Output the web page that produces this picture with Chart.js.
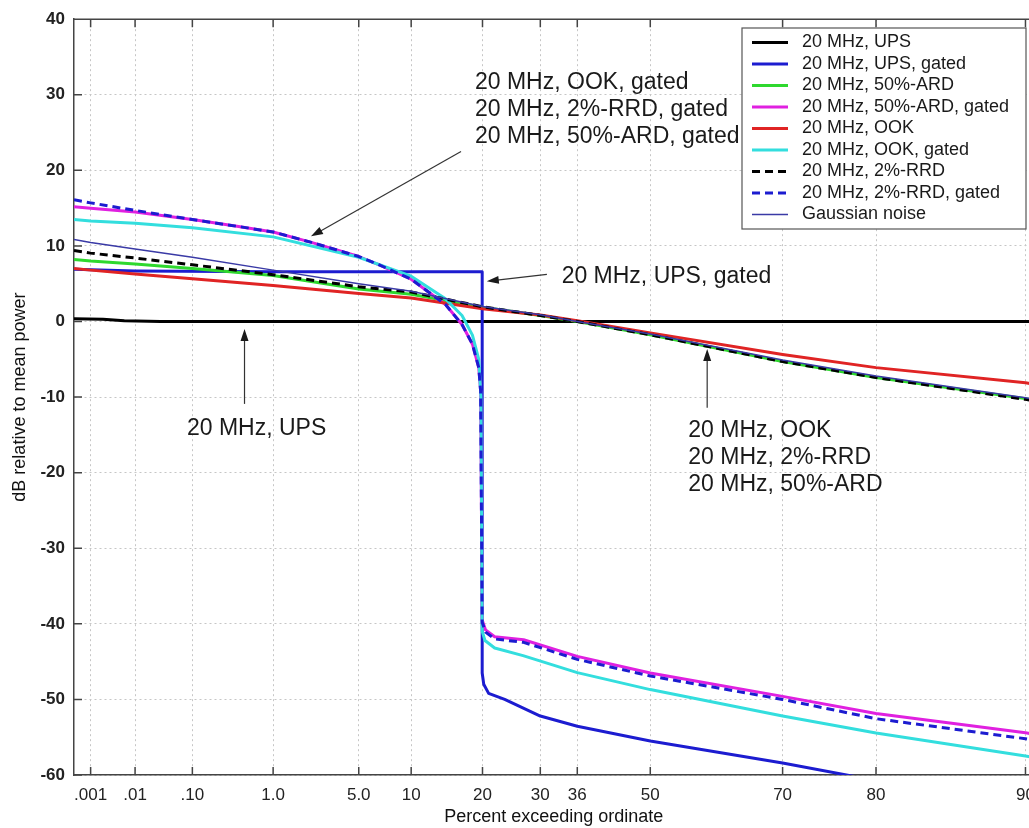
<!DOCTYPE html>
<html>
<head>
<meta charset="utf-8">
<script src="https://cdn.jsdelivr.net/npm/chart.js@4"></script>
<style>
  html, body { margin: 0; padding: 0; overflow: hidden; background: #fff; }
  #wrap { width: 1045px; height: 828px; }
</style>
</head>
<body>
<div id="wrap"><canvas id="chart"></canvas></div>
<script>
// percent exceeding ordinate (Rayleigh probability axis)
const xTickPct = [0.001, 0.01, 0.1, 1, 5, 10, 20, 30, 36.79, 50, 70, 80, 90];
const xTickLabels = [".001", ".01", ".10", "1.0", "5.0", "10", "20", "30", "36", "50", "70", "80", "90"];
const xMinPct = 0.000367;
const xMaxPct = 90.38;

const seriesNames = [
  "20 MHz, UPS",
  "20 MHz, UPS, gated",
  "20 MHz, 50%-ARD",
  "20 MHz, 50%-ARD, gated",
  "20 MHz, OOK",
  "20 MHz, OOK, gated",
  "20 MHz, 2%-RRD",
  "20 MHz, 2%-RRD, gated",
  "Gaussian noise",
];

const basePct = [0.000367, 0.001, 0.01, 0.1, 1, 5, 10, 20, 30, 36.79, 50, 70, 80, 90, 90.4];
const ookDb   = [7.0, 6.8, 6.3, 5.65, 4.75, 3.7, 3.1, 1.7, 0.85, 0.1, -1.5, -4.35, -6.1, -8.1, -8.3];
const ardDb   = [8.2, 8.0, 7.6, 7.0, 6.1, 4.3, 3.6, 1.9, 0.8, 0, -1.75, -5.3, -7.4, -10.2, -10.4];
const rrdDb   = [9.4, 9.05, 8.4, 7.5, 6.2, 4.6, 3.9, 1.95, 0.8, 0, -1.75, -5.3, -7.4, -10.3, -10.5];
const gaussDb = [10.85, 10.45, 9.6, 8.5, 6.8, 5.0, 4.0, 2.0, 0.9, 0, -1.65, -5.1, -7.2, -10.1, -10.3];

const upsPct = [0.000367, 0.002, 0.006, 0.03, 90.4];
const upsDb  = [0.35, 0.3, 0.1, 0, 0];

const upsGatedPct = [0.000367, 0.01, 1, 5, 19.95, 19.95, 20.2, 21, 23.7, 30, 36.79, 50, 70, 78, 80];
const upsGatedDb  = [6.9, 6.7, 6.6, 6.6, 6.6, -46.5, -48.0, -49.2, -50.0, -52.2, -53.55, -55.5, -58.4, -60.2, -60.6];

const gatedPct   = [0.000367, 0.001, 0.01, 0.1, 0.4, 1, 2.2, 5, 6.7, 10, 14.4, 16.8, 18.4, 19.4, 19.7, 19.95, 20.5, 22, 27, 36.79, 50, 70, 80, 90, 90.4];
const ardGatedDb = [15.2, 15.0, 14.5, 13.5, 12.6, 11.85, 10.5, 8.6, 7.5, 5.6, 2.25, -0.4, -3.0, -6.1, -9.2, -39.5, -40.8, -41.7, -42.1, -44.3, -46.5, -49.6, -51.85, -54.4, -54.6];
const rrdGatedDb = [16.1, 15.7, 14.7, 13.5, 12.6, 11.85, 10.5, 8.6, 7.5, 5.6, 2.25, -0.4, -3.0, -6.1, -9.2, -39.8, -41.1, -42.0, -42.45, -44.7, -46.9, -50.0, -52.55, -55.2, -55.4];

const ookGatedPct = [0.000367, 0.001, 0.01, 0.1, 1, 5, 10, 14.4, 16.8, 18.4, 19.4, 19.75, 19.95, 20.4, 22, 26.9, 36.79, 50, 70, 80, 90, 90.4];
const ookGatedDb  = [13.5, 13.3, 13.0, 12.4, 11.2, 8.5, 6.0, 3.0, 0.8, -1.8, -5.0, -10.0, -41.0, -42.2, -43.2, -44.2, -46.45, -48.7, -52.2, -54.45, -57.5, -57.7];

// text callouts, anchored in data units (percent, dB)
const notes = [
  { lines: ["20 MHz, OOK, gated", "20 MHz, 2%-RRD, gated", "20 MHz, 50%-ARD, gated"], pct: 18.8, db: 31.6 },
  { lines: ["20 MHz, UPS, gated"], pct: 33.9, db: 6.0 },
  { lines: ["20 MHz, UPS"], pct: 0.0826, db: -14.2 },
  { lines: ["20 MHz, OOK", "20 MHz, 2%-RRD", "20 MHz, 50%-ARD"], pct: 56.4, db: -14.47 },
];
const arrows = [
  { from: [16.65, 22.5], to: [2.22, 11.27] },
  { from: [31.2, 6.25], to: [20.7, 5.33] },
  { from: [0.491, -10.9], to: [0.491, -1.0] },
  { from: [59.4, -11.4], to: [59.4, -3.65] },
];

const FONT = '"Liberation Sans", Arial, Helvetica, sans-serif';
Chart.defaults.font.family = FONT;

const rayleigh = (p) => -Math.log10(-Math.log(p / 100));

class RayleighScale extends Chart.LinearScale {
  determineDataLimits() {
    this.min = this.options.min;
    this.max = this.options.max;
  }
  buildTicks() {
    return xTickPct.map((value) => ({ value }));
  }
  configure() {
    super.configure();
    this._lo = rayleigh(this.min);
    this._span = rayleigh(this.max) - this._lo;
  }
  getLabelForValue(value) {
    return value + "%";
  }
  getPixelForValue(value) {
    return this.getPixelForDecimal((rayleigh(value) - this._lo) / this._span);
  }
  getValueForPixel(pixel) {
    const c = this._lo + this.getDecimalForPixel(pixel) * this._span;
    return 100 * Math.exp(-Math.pow(10, -c));
  }
}
RayleighScale.id = "rayleigh";
RayleighScale.defaults = Chart.LinearScale.defaults;
Chart.register(RayleighScale);

const pts = (pct, db) => pct.map((p, i) => ({ x: p, y: db[i] }));

const BLUE = "#1c1cd0";
const datasets = [
  { data: pts(upsPct, upsDb), borderColor: "#000000", borderWidth: 3 },
  { data: pts(upsGatedPct, upsGatedDb), borderColor: BLUE, borderWidth: 3 },
  { data: pts(basePct, ardDb), borderColor: "#2ed82e", borderWidth: 3 },
  { data: pts(gatedPct, ardGatedDb), borderColor: "#e020e0", borderWidth: 3 },
  { data: pts(basePct, ookDb), borderColor: "#e02424", borderWidth: 3 },
  { data: pts(ookGatedPct, ookGatedDb), borderColor: "#33dede", borderWidth: 3 },
  { data: pts(basePct, rrdDb), borderColor: "#000000", borderWidth: 3, borderDash: [8, 5] },
  { data: pts(gatedPct, rrdGatedDb), borderColor: BLUE, borderWidth: 3, borderDash: [8, 5] },
  { data: pts(basePct, gaussDb), borderColor: "#3a3aa6", borderWidth: 1.5 },
].map((d, i, all) => ({
  ...d,
  label: seriesNames[i],
  order: all.length - i, // later series drawn on top
  pointRadius: 0,
  tension: 0,
  fill: false,
  borderJoinStyle: "round",
}));

function drawArrow(ctx, x1, y1, x2, y2) {
  const a = Math.atan2(y2 - y1, x2 - x1);
  const c = Math.cos(a), s = Math.sin(a);
  ctx.beginPath();
  ctx.moveTo(x1, y1);
  ctx.lineTo(x2 - 8 * c, y2 - 8 * s);
  ctx.stroke();
  ctx.beginPath();
  ctx.moveTo(x2, y2);
  ctx.lineTo(x2 - 12 * c + 4 * s, y2 - 12 * s - 4 * c);
  ctx.lineTo(x2 - 12 * c - 4 * s, y2 - 12 * s + 4 * c);
  ctx.closePath();
  ctx.fill();
}

// box frame and inward tick marks, like the original plot
const framePlugin = {
  id: "frame",
  beforeDatasetsDraw(chart) {
    const { ctx, chartArea: a, scales: { x, y } } = chart;
    ctx.save();
    ctx.strokeStyle = "#444";
    ctx.lineWidth = 1.5;
    ctx.beginPath();
    ctx.moveTo(a.left, a.top);
    ctx.lineTo(a.right, a.top);
    x.ticks.forEach((t) => {
      const px = x.getPixelForValue(t.value);
      ctx.moveTo(px, a.bottom);
      ctx.lineTo(px, a.bottom - 8);
      ctx.moveTo(px, a.top);
      ctx.lineTo(px, a.top + 8);
    });
    y.ticks.forEach((t) => {
      const py = y.getPixelForValue(t.value);
      ctx.moveTo(a.left, py);
      ctx.lineTo(a.left + 8, py);
    });
    ctx.stroke();
    ctx.restore();
  },
};

const notesPlugin = {
  id: "notes",
  afterDatasetsDraw(chart) {
    const { ctx, scales: { x, y } } = chart;
    ctx.save();
    ctx.fillStyle = "#1a1a1a";
    ctx.strokeStyle = "#333";
    ctx.lineWidth = 1.2;
    arrows.forEach((ar) => {
      drawArrow(ctx,
        x.getPixelForValue(ar.from[0]), y.getPixelForValue(ar.from[1]),
        x.getPixelForValue(ar.to[0]), y.getPixelForValue(ar.to[1]));
    });
    ctx.font = "23px " + FONT;
    ctx.textBaseline = "middle";
    ctx.textAlign = "left";
    notes.forEach((n) => {
      const px = x.getPixelForValue(n.pct);
      const py = y.getPixelForValue(n.db);
      n.lines.forEach((line, i) => ctx.fillText(line, px, py + i * 27));
    });
    ctx.restore();
  },
};

const legendPlugin = {
  id: "boxLegend",
  afterDraw(chart, args, opts) {
    const { ctx } = chart;
    const { left, top, width, height, rowTop, rowStep } = opts;
    ctx.save();
    ctx.fillStyle = "#fff";
    ctx.fillRect(left, top, width, height);
    ctx.strokeStyle = "#555";
    ctx.lineWidth = 1.2;
    ctx.strokeRect(left, top, width, height);
    ctx.font = "18px " + FONT;
    ctx.textBaseline = "middle";
    chart.data.datasets.forEach((ds, i) => {
      const yy = rowTop + i * rowStep;
      ctx.strokeStyle = ds.borderColor;
      ctx.lineWidth = ds.borderWidth;
      ctx.setLineDash(ds.borderDash || []);
      ctx.beginPath();
      ctx.moveTo(left + 10, yy);
      ctx.lineTo(left + 46, yy);
      ctx.stroke();
      ctx.setLineDash([]);
      ctx.fillStyle = "#1a1a1a";
      ctx.fillText(ds.label, left + 60, yy);
    });
    ctx.restore();
  },
};

const gridDash = [2, 3];

new Chart(document.getElementById("chart"), {
  type: "line",
  data: { datasets },
  plugins: [framePlugin, notesPlugin, legendPlugin],
  options: {
    responsive: true,
    maintainAspectRatio: false,
    animation: false,
    events: [],
    layout: { padding: { top: 17, right: 9, left: 0, bottom: 0 } },
    plugins: {
      legend: { display: false },
      tooltip: { enabled: false },
      boxLegend: { left: 742, top: 28, width: 284, height: 201, rowTop: 42.5, rowStep: 21.5 },
    },
    scales: {
      x: {
        type: "rayleigh",
        min: xMinPct,
        max: xMaxPct,
        afterFit: (s) => { s.height = 53; },
        grid: { color: "#c6c6c6", drawTicks: false },
        border: { color: "#444", width: 1.5, dash: gridDash },
        ticks: {
          autoSkip: false,
          maxRotation: 0,
          padding: 10,
          color: "#222",
          font: { size: 17 },
          callback: (v, i) => xTickLabels[i],
        },
        title: {
          display: true,
          text: "Percent exceeding ordinate",
          color: "#111",
          font: { size: 18 },
          padding: { top: 0, bottom: 0 },
        },
      },
      y: {
        min: -60,
        max: 40,
        afterFit: (s) => { s.width = 74; },
        grid: { color: "#c6c6c6", drawTicks: false },
        border: { color: "#444", width: 1.5, dash: gridDash },
        ticks: { stepSize: 10, padding: 9, color: "#222", font: { size: 17, weight: "bold" } },
        title: {
          display: true,
          text: "dB relative to mean power",
          color: "#111",
          font: { size: 18 },
          padding: { top: 9, bottom: 0 },
        },
      },
    },
  },
});
</script>
</body>
</html>
